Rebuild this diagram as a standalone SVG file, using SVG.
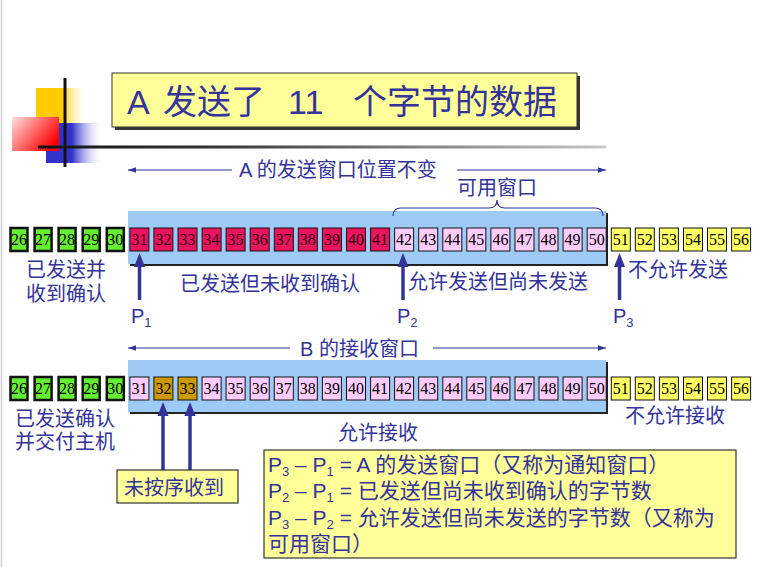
<svg xmlns="http://www.w3.org/2000/svg" width="761" height="567" viewBox="0 0 761 567">
<style>
.t{font-family:"Liberation Sans","Noto Sans CJK SC",sans-serif;fill:#333399;font-size:20px}
.n{font-family:"Liberation Serif","DejaVu Serif",serif;font-size:16px;text-anchor:middle;fill:#000}
.gr rect{fill:#66ee33;stroke:#111;stroke-width:2.5}
.rd rect{fill:#e8145e;stroke:#111;stroke-width:1}
.rd text{fill:#330011}
.pk rect{fill:#ffccff;stroke:#111;stroke-width:1}
.yl rect{fill:#ffff66;stroke:#111;stroke-width:1}
.gd rect{fill:#cc9900;stroke:#111;stroke-width:1}
.thin{stroke:#333399;stroke-width:1.2;fill:none}
.thick{stroke:#333399;stroke-width:3.5;fill:none}
.head{fill:#333399}
.note{fill:#ffff99;stroke:#333;stroke-width:1.2}
</style>
<defs>
<linearGradient id="gy" x1="0" y1="0" x2="1" y2="0"><stop offset="0" stop-color="#ffcc00"/><stop offset="0.5" stop-color="#ffcc00"/><stop offset="1" stop-color="#ffffff" stop-opacity="0"/></linearGradient>
<linearGradient id="gb" x1="0" y1="0" x2="1" y2="0"><stop offset="0" stop-color="#3333cc"/><stop offset="0.45" stop-color="#3333cc"/><stop offset="1" stop-color="#ffffff" stop-opacity="0"/></linearGradient>
<linearGradient id="gr" x1="0" y1="0" x2="1" y2="0.6"><stop offset="0" stop-color="#ffe0e0"/><stop offset="1" stop-color="#ff0000"/></linearGradient>
<linearGradient id="gl" x1="0" y1="0" x2="1" y2="0"><stop offset="0" stop-color="#111"/><stop offset="0.3" stop-color="#333"/><stop offset="1" stop-color="#c8c8c8"/></linearGradient>
<marker id="ah" viewBox="0 0 10 10" refX="10" refY="5" markerWidth="8" markerHeight="8" markerUnits="userSpaceOnUse" orient="auto-start-reverse"><path d="M0,1.5 L10,5 L0,8.5 z" fill="#333399"/></marker>
</defs>
<rect width="761" height="567" fill="#ffffff"/>
<line x1="1.5" y1="0" x2="1.5" y2="567" stroke="#d0d0d0" stroke-width="1.5"/>

<g id="decoration">
<rect x="36" y="88" width="52" height="36" fill="url(#gy)"/>
<rect x="46" y="123" width="58" height="40" fill="url(#gb)"/>
<rect x="12" y="117" width="47" height="34" fill="url(#gr)"/>
<line x1="65" y1="78" x2="65" y2="167" stroke="#111" stroke-width="3"/>
<rect x="38" y="145.5" width="568" height="3" fill="url(#gl)"/>
</g>

<g id="title">
<rect x="115" y="76" width="465" height="54" fill="#333"/>
<rect x="112" y="73" width="465" height="54" fill="#ffff99" stroke="#333" stroke-width="1"/>
<text class="t" y="114" style="font-size:34px"><tspan x="127">A</tspan><tspan x="163">发送了</tspan><tspan x="288">11</tspan><tspan x="353">个字节的数据</tspan></text>
</g>

<g id="windowA">
<rect x="130" y="213" width="478" height="53" fill="#222"/>
<rect x="128" y="211" width="478" height="53" fill="#9ecbf5"/>
</g>
<g id="windowB">
<rect x="130" y="362" width="478" height="52" fill="#222"/>
<rect x="128" y="360" width="478" height="52" fill="#9ecbf5"/>
</g>

<g id="connectors">
<line class="thin" x1="128" y1="170" x2="232" y2="170" marker-start="url(#ah)"/>
<line class="thin" x1="457" y1="170" x2="606" y2="170" marker-end="url(#ah)"/>
<path class="thin" d="M393,216 Q393,208 401,208 L489,208 Q497,208 497,200 Q497,208 505,208 L595,208 Q603,208 603,216"/>
<line class="thin" x1="128" y1="348" x2="290" y2="348" marker-start="url(#ah)"/>
<line class="thin" x1="433" y1="348" x2="606" y2="348" marker-end="url(#ah)"/>
<line class="thick" x1="139.5" y1="300" x2="139.5" y2="264"/><path class="head" d="M139.5,253 L145,267 L134,267 z"/>
<line class="thick" x1="403" y1="300" x2="403" y2="264"/><path class="head" d="M403,253 L408.5,267 L397.5,267 z"/>
<line class="thick" x1="619.5" y1="300" x2="619.5" y2="264"/><path class="head" d="M619.5,253 L625,267 L614,267 z"/>
<line class="thick" x1="163" y1="470" x2="163" y2="413"/><path class="head" d="M163,402 L168.5,416 L157.5,416 z"/>
<line class="thick" x1="190" y1="470" x2="190" y2="413"/><path class="head" d="M190,402 L195.5,416 L184.5,416 z"/>
</g>

<g id="rowA">
<g id="a26" class="gr"><rect x="10.5" y="228" width="17" height="23"/><text class="n" x="19" y="245">26</text></g>
<g id="a27" class="gr"><rect x="34.6" y="228" width="17" height="23"/><text class="n" x="43.1" y="245">27</text></g>
<g id="a28" class="gr"><rect x="58.6" y="228" width="17" height="23"/><text class="n" x="67.1" y="245">28</text></g>
<g id="a29" class="gr"><rect x="82.7" y="228" width="17" height="23"/><text class="n" x="91.2" y="245">29</text></g>
<g id="a30" class="gr"><rect x="106.8" y="228" width="17" height="23"/><text class="n" x="115.3" y="245">30</text></g>
<g id="a31" class="rd"><rect x="129.9" y="228" width="19" height="23"/><text class="n" x="139.4" y="245">31</text></g>
<g id="a32" class="rd"><rect x="153.9" y="228" width="19" height="23"/><text class="n" x="163.4" y="245">32</text></g>
<g id="a33" class="rd"><rect x="178" y="228" width="19" height="23"/><text class="n" x="187.5" y="245">33</text></g>
<g id="a34" class="rd"><rect x="202.1" y="228" width="19" height="23"/><text class="n" x="211.6" y="245">34</text></g>
<g id="a35" class="rd"><rect x="226.1" y="228" width="19" height="23"/><text class="n" x="235.6" y="245">35</text></g>
<g id="a36" class="rd"><rect x="250.2" y="228" width="19" height="23"/><text class="n" x="259.7" y="245">36</text></g>
<g id="a37" class="rd"><rect x="274.3" y="228" width="19" height="23"/><text class="n" x="283.8" y="245">37</text></g>
<g id="a38" class="rd"><rect x="298.3" y="228" width="19" height="23"/><text class="n" x="307.8" y="245">38</text></g>
<g id="a39" class="rd"><rect x="322.4" y="228" width="19" height="23"/><text class="n" x="331.9" y="245">39</text></g>
<g id="a40" class="rd"><rect x="346.5" y="228" width="19" height="23"/><text class="n" x="356" y="245">40</text></g>
<g id="a41" class="rd"><rect x="370.6" y="228" width="19" height="23"/><text class="n" x="380.1" y="245">41</text></g>
<g id="a42" class="pk"><rect x="394.6" y="228" width="19" height="23"/><text class="n" x="404.1" y="245">42</text></g>
<g id="a43" class="pk"><rect x="418.7" y="228" width="19" height="23"/><text class="n" x="428.2" y="245">43</text></g>
<g id="a44" class="pk"><rect x="442.8" y="228" width="19" height="23"/><text class="n" x="452.3" y="245">44</text></g>
<g id="a45" class="pk"><rect x="466.8" y="228" width="19" height="23"/><text class="n" x="476.3" y="245">45</text></g>
<g id="a46" class="pk"><rect x="490.9" y="228" width="19" height="23"/><text class="n" x="500.4" y="245">46</text></g>
<g id="a47" class="pk"><rect x="515" y="228" width="19" height="23"/><text class="n" x="524.5" y="245">47</text></g>
<g id="a48" class="pk"><rect x="539" y="228" width="19" height="23"/><text class="n" x="548.5" y="245">48</text></g>
<g id="a49" class="pk"><rect x="563.1" y="228" width="19" height="23"/><text class="n" x="572.6" y="245">49</text></g>
<g id="a50" class="pk"><rect x="587.2" y="228" width="19" height="23"/><text class="n" x="596.7" y="245">50</text></g>
<g id="a51" class="yl"><rect x="611.3" y="228" width="19" height="23"/><text class="n" x="620.8" y="245">51</text></g>
<g id="a52" class="yl"><rect x="635.3" y="228" width="19" height="23"/><text class="n" x="644.8" y="245">52</text></g>
<g id="a53" class="yl"><rect x="659.4" y="228" width="19" height="23"/><text class="n" x="668.9" y="245">53</text></g>
<g id="a54" class="yl"><rect x="683.5" y="228" width="19" height="23"/><text class="n" x="693" y="245">54</text></g>
<g id="a55" class="yl"><rect x="707.5" y="228" width="19" height="23"/><text class="n" x="717" y="245">55</text></g>
<g id="a56" class="yl"><rect x="731.6" y="228" width="19" height="23"/><text class="n" x="741.1" y="245">56</text></g>
</g>

<g id="rowB">
<g id="b26" class="gr"><rect x="10.5" y="377" width="17" height="23"/><text class="n" x="19" y="394">26</text></g>
<g id="b27" class="gr"><rect x="34.6" y="377" width="17" height="23"/><text class="n" x="43.1" y="394">27</text></g>
<g id="b28" class="gr"><rect x="58.6" y="377" width="17" height="23"/><text class="n" x="67.1" y="394">28</text></g>
<g id="b29" class="gr"><rect x="82.7" y="377" width="17" height="23"/><text class="n" x="91.2" y="394">29</text></g>
<g id="b30" class="gr"><rect x="106.8" y="377" width="17" height="23"/><text class="n" x="115.3" y="394">30</text></g>
<g id="b31" class="pk"><rect x="129.9" y="377" width="19" height="23"/><text class="n" x="139.4" y="394">31</text></g>
<g id="b32" class="gd"><rect x="153.9" y="377" width="19" height="23"/><text class="n" x="163.4" y="394">32</text></g>
<g id="b33" class="gd"><rect x="178" y="377" width="19" height="23"/><text class="n" x="187.5" y="394">33</text></g>
<g id="b34" class="pk"><rect x="202.1" y="377" width="19" height="23"/><text class="n" x="211.6" y="394">34</text></g>
<g id="b35" class="pk"><rect x="226.1" y="377" width="19" height="23"/><text class="n" x="235.6" y="394">35</text></g>
<g id="b36" class="pk"><rect x="250.2" y="377" width="19" height="23"/><text class="n" x="259.7" y="394">36</text></g>
<g id="b37" class="pk"><rect x="274.3" y="377" width="19" height="23"/><text class="n" x="283.8" y="394">37</text></g>
<g id="b38" class="pk"><rect x="298.3" y="377" width="19" height="23"/><text class="n" x="307.8" y="394">38</text></g>
<g id="b39" class="pk"><rect x="322.4" y="377" width="19" height="23"/><text class="n" x="331.9" y="394">39</text></g>
<g id="b40" class="pk"><rect x="346.5" y="377" width="19" height="23"/><text class="n" x="356" y="394">40</text></g>
<g id="b41" class="pk"><rect x="370.6" y="377" width="19" height="23"/><text class="n" x="380.1" y="394">41</text></g>
<g id="b42" class="pk"><rect x="394.6" y="377" width="19" height="23"/><text class="n" x="404.1" y="394">42</text></g>
<g id="b43" class="pk"><rect x="418.7" y="377" width="19" height="23"/><text class="n" x="428.2" y="394">43</text></g>
<g id="b44" class="pk"><rect x="442.8" y="377" width="19" height="23"/><text class="n" x="452.3" y="394">44</text></g>
<g id="b45" class="pk"><rect x="466.8" y="377" width="19" height="23"/><text class="n" x="476.3" y="394">45</text></g>
<g id="b46" class="pk"><rect x="490.9" y="377" width="19" height="23"/><text class="n" x="500.4" y="394">46</text></g>
<g id="b47" class="pk"><rect x="515" y="377" width="19" height="23"/><text class="n" x="524.5" y="394">47</text></g>
<g id="b48" class="pk"><rect x="539" y="377" width="19" height="23"/><text class="n" x="548.5" y="394">48</text></g>
<g id="b49" class="pk"><rect x="563.1" y="377" width="19" height="23"/><text class="n" x="572.6" y="394">49</text></g>
<g id="b50" class="pk"><rect x="587.2" y="377" width="19" height="23"/><text class="n" x="596.7" y="394">50</text></g>
<g id="b51" class="yl"><rect x="611.3" y="377" width="19" height="23"/><text class="n" x="620.8" y="394">51</text></g>
<g id="b52" class="yl"><rect x="635.3" y="377" width="19" height="23"/><text class="n" x="644.8" y="394">52</text></g>
<g id="b53" class="yl"><rect x="659.4" y="377" width="19" height="23"/><text class="n" x="668.9" y="394">53</text></g>
<g id="b54" class="yl"><rect x="683.5" y="377" width="19" height="23"/><text class="n" x="693" y="394">54</text></g>
<g id="b55" class="yl"><rect x="707.5" y="377" width="19" height="23"/><text class="n" x="717" y="394">55</text></g>
<g id="b56" class="yl"><rect x="731.6" y="377" width="19" height="23"/><text class="n" x="741.1" y="394">56</text></g>
</g>

<g id="labels">
<text class="t" x="239" y="177">A 的发送窗口位置不变</text>
<text class="t" x="457" y="195">可用窗口</text>
<text class="t" x="26" y="277">已发送并</text>
<text class="t" x="26" y="301">收到确认</text>
<text class="t" x="180" y="291">已发送但未收到确认</text>
<text class="t" x="408" y="289">允许发送但尚未发送</text>
<text class="t" x="628" y="277">不允许发送</text>
<text class="t" x="131" y="323">P<tspan dy="4" style="font-size:13px">1</tspan></text>
<text class="t" x="397" y="323">P<tspan dy="4" style="font-size:13px">2</tspan></text>
<text class="t" x="613" y="323">P<tspan dy="4" style="font-size:13px">3</tspan></text>
<text class="t" x="300" y="356">B 的接收窗口</text>
<text class="t" x="15" y="426">已发送确认</text>
<text class="t" x="15" y="449">并交付主机</text>
<text class="t" x="338" y="440">允许接收</text>
<text class="t" x="625" y="423">不允许接收</text>
</g>

<g id="outoforder">
<rect class="note" x="117" y="470" width="121" height="33"/>
<text class="t" x="124" y="495">未按序收到</text>
</g>

<g id="legend">
<rect class="note" x="264" y="450" width="472" height="108"/>
<text class="t" style="font-size:21px" x="268" y="472">P<tspan dy="4" style="font-size:13px">3</tspan><tspan dy="-4"> – P</tspan><tspan dy="4" style="font-size:13px">1</tspan><tspan dy="-4"> = A 的发送窗口（又称为通知窗口）</tspan></text>
<text class="t" style="font-size:21px" x="268" y="498">P<tspan dy="4" style="font-size:13px">2</tspan><tspan dy="-4"> – P</tspan><tspan dy="4" style="font-size:13px">1</tspan><tspan dy="-4"> = 已发送但尚未收到确认的字节数</tspan></text>
<text class="t" style="font-size:21px" x="268" y="525">P<tspan dy="4" style="font-size:13px">3</tspan><tspan dy="-4"> – P</tspan><tspan dy="4" style="font-size:13px">2</tspan><tspan dy="-4"> = 允许发送但尚未发送的字节数（又称为</tspan></text>
<text class="t" style="font-size:21px" x="268" y="551">可用窗口）</text>
</g>
</svg>
